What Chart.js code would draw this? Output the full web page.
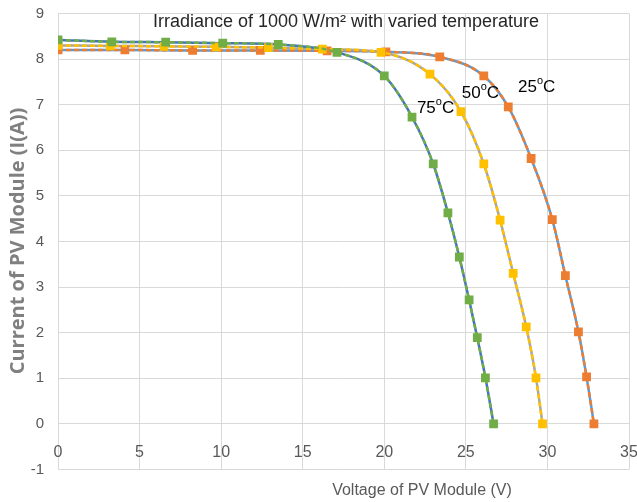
<!DOCTYPE html>
<html>
<head>
<meta charset="utf-8">
<script src="https://cdn.jsdelivr.net/npm/chart.js@4"></script>
<style>
  html, body { margin: 0; padding: 0; background: #fff; }
  #wrap { width: 637px; height: 502px; }
</style>
</head>
<body>
<div id="wrap"><canvas id="ivChart" width="637" height="502"></canvas></div>
<script>
// I-V curves (voltage in V, current in A)
const voltage25 = [0, 4.1, 8.25, 12.4, 16.5, 20.1, 23.4, 26.1, 27.6, 29.0, 30.3, 31.1, 31.9, 32.4, 32.85];
const current25 = [8.2, 8.2, 8.19, 8.19, 8.18, 8.16, 8.05, 7.63, 6.95, 5.82, 4.48, 3.25, 2.02, 1.03, 0];

const voltage50 = [0, 3.2, 6.5, 9.7, 12.9, 16.2, 19.8, 22.8, 24.7, 26.1, 27.1, 27.9, 28.7, 29.3, 29.7];
const current50 = [8.3, 8.29, 8.28, 8.27, 8.25, 8.22, 8.15, 7.67, 6.85, 5.7, 4.47, 3.3, 2.13, 1.01, 0];

const voltage75 = [0, 3.3, 6.6, 10.1, 13.5, 17.1, 20.0, 21.7, 23.0, 23.9, 24.6, 25.2, 25.7, 26.2, 26.7];
const current75 = [8.42, 8.38, 8.37, 8.35, 8.32, 8.15, 7.63, 6.73, 5.7, 4.63, 3.66, 2.72, 1.89, 1.01, 0];

const tempLabels = ['25', '50', '75'];
// where each temperature label starts, in data units
const labelAt = [[28.2, 7.39], [24.75, 7.26], [22.0, 6.93]];

const chartTitle = 'Irradiance of 1000 W/m² with varied temperature';
const xTitle = 'Voltage of PV Module (V)';
const yTitle = 'Current of PV Module (I(A))';

const font = '"Liberation Sans", Arial, sans-serif';

function pts(xs, ys) {
  return xs.map((x, i) => ({ x: x, y: ys[i] }));
}

function baseLine(xs, ys, color, order) {
  return {
    data: pts(xs, ys),
    borderColor: color,
    borderWidth: 2.5,
    pointRadius: 0,
    showLine: true,
    cubicInterpolationMode: 'monotone',
    order: order
  };
}

function markedLine(xs, ys, color, order) {
  return {
    data: pts(xs, ys),
    borderColor: color,
    backgroundColor: color,
    borderWidth: 2.5,
    borderDash: [5, 3],
    pointStyle: 'rect',
    pointRadius: 6.2,
    pointBorderWidth: 0,
    showLine: true,
    cubicInterpolationMode: 'monotone',
    order: order
  };
}

// extra text: title, axis titles, temperature labels
const textPlugin = {
  id: 'texts',
  afterDraw(chart) {
    const ctx = chart.ctx;
    const xs = chart.scales.x, ys = chart.scales.y;
    ctx.save();
    ctx.fillStyle = '#262626';
    ctx.font = '18px ' + font;
    ctx.textAlign = 'center';
    ctx.textBaseline = 'middle';
    ctx.fillText(chartTitle, 346, 22);

    ctx.fillStyle = '#595959';
    ctx.font = '16px ' + font;
    ctx.fillText(xTitle, 422, 491);

    ctx.save();
    ctx.translate(18, 241);
    ctx.rotate(-Math.PI / 2);
    ctx.fillStyle = '#808080';
    ctx.font = 'bold 20px "Open Sans", sans-serif';
    ctx.fillText(yTitle, 0, 0);
    ctx.restore();

    ctx.fillStyle = '#000';
    ctx.textAlign = 'left';
    tempLabels.forEach((t, i) => {
      let px = xs.getPixelForValue(labelAt[i][0]);
      const py = ys.getPixelForValue(labelAt[i][1]);
      ctx.font = '17px ' + font;
      ctx.fillText(t, px, py);
      px += ctx.measureText(t).width;
      ctx.font = '11px ' + font;
      ctx.fillText('o', px, py - 6);
      px += ctx.measureText('o').width;
      ctx.font = '17px ' + font;
      ctx.fillText('C', px, py);
    });
    ctx.restore();
  }
};

const ctx = document.getElementById('ivChart').getContext('2d');
const ivChart = new Chart(ctx, {
  type: 'scatter',
  data: {
    datasets: [
      baseLine(voltage25, current25, '#5B9BD5', 6),
      markedLine(voltage25, current25, '#ED7D31', 3),
      baseLine(voltage50, current50, '#A5A5A5', 5),
      markedLine(voltage50, current50, '#FFC000', 2),
      baseLine(voltage75, current75, '#4472C4', 4),
      markedLine(voltage75, current75, '#70AD47', 1)
    ]
  },
  options: {
    responsive: false,
    animation: false,
    layout: { padding: { left: 0, top: 13.5, right: 8, bottom: 32.5 } },
    plugins: {
      legend: { display: false },
      tooltip: { enabled: false }
    },
    scales: {
      x: {
        type: 'linear',
        position: { y: 0 },
        min: 0,
        max: 35,
        ticks: { stepSize: 5, color: '#595959', font: { size: 16, family: font }, padding: 19 },
        grid: { color: '#d9d9d9', drawTicks: false },
        border: { display: true, color: '#d9d9d9' },
        afterFit(scale) { scale.paddingLeft = 0; scale.paddingRight = 0; scale.height = 0; }
      },
      y: {
        min: -1,
        max: 9,
        ticks: { stepSize: 1, color: '#595959', font: { size: 15, family: font }, padding: 14 },
        grid: { color: '#d9d9d9', drawTicks: false },
        border: { display: false },
        afterFit(scale) { scale.width = 58; scale.paddingTop = 0; scale.paddingBottom = 0; }
      }
    }
  },
  plugins: [textPlugin]
});
</script>
</body>
</html>
